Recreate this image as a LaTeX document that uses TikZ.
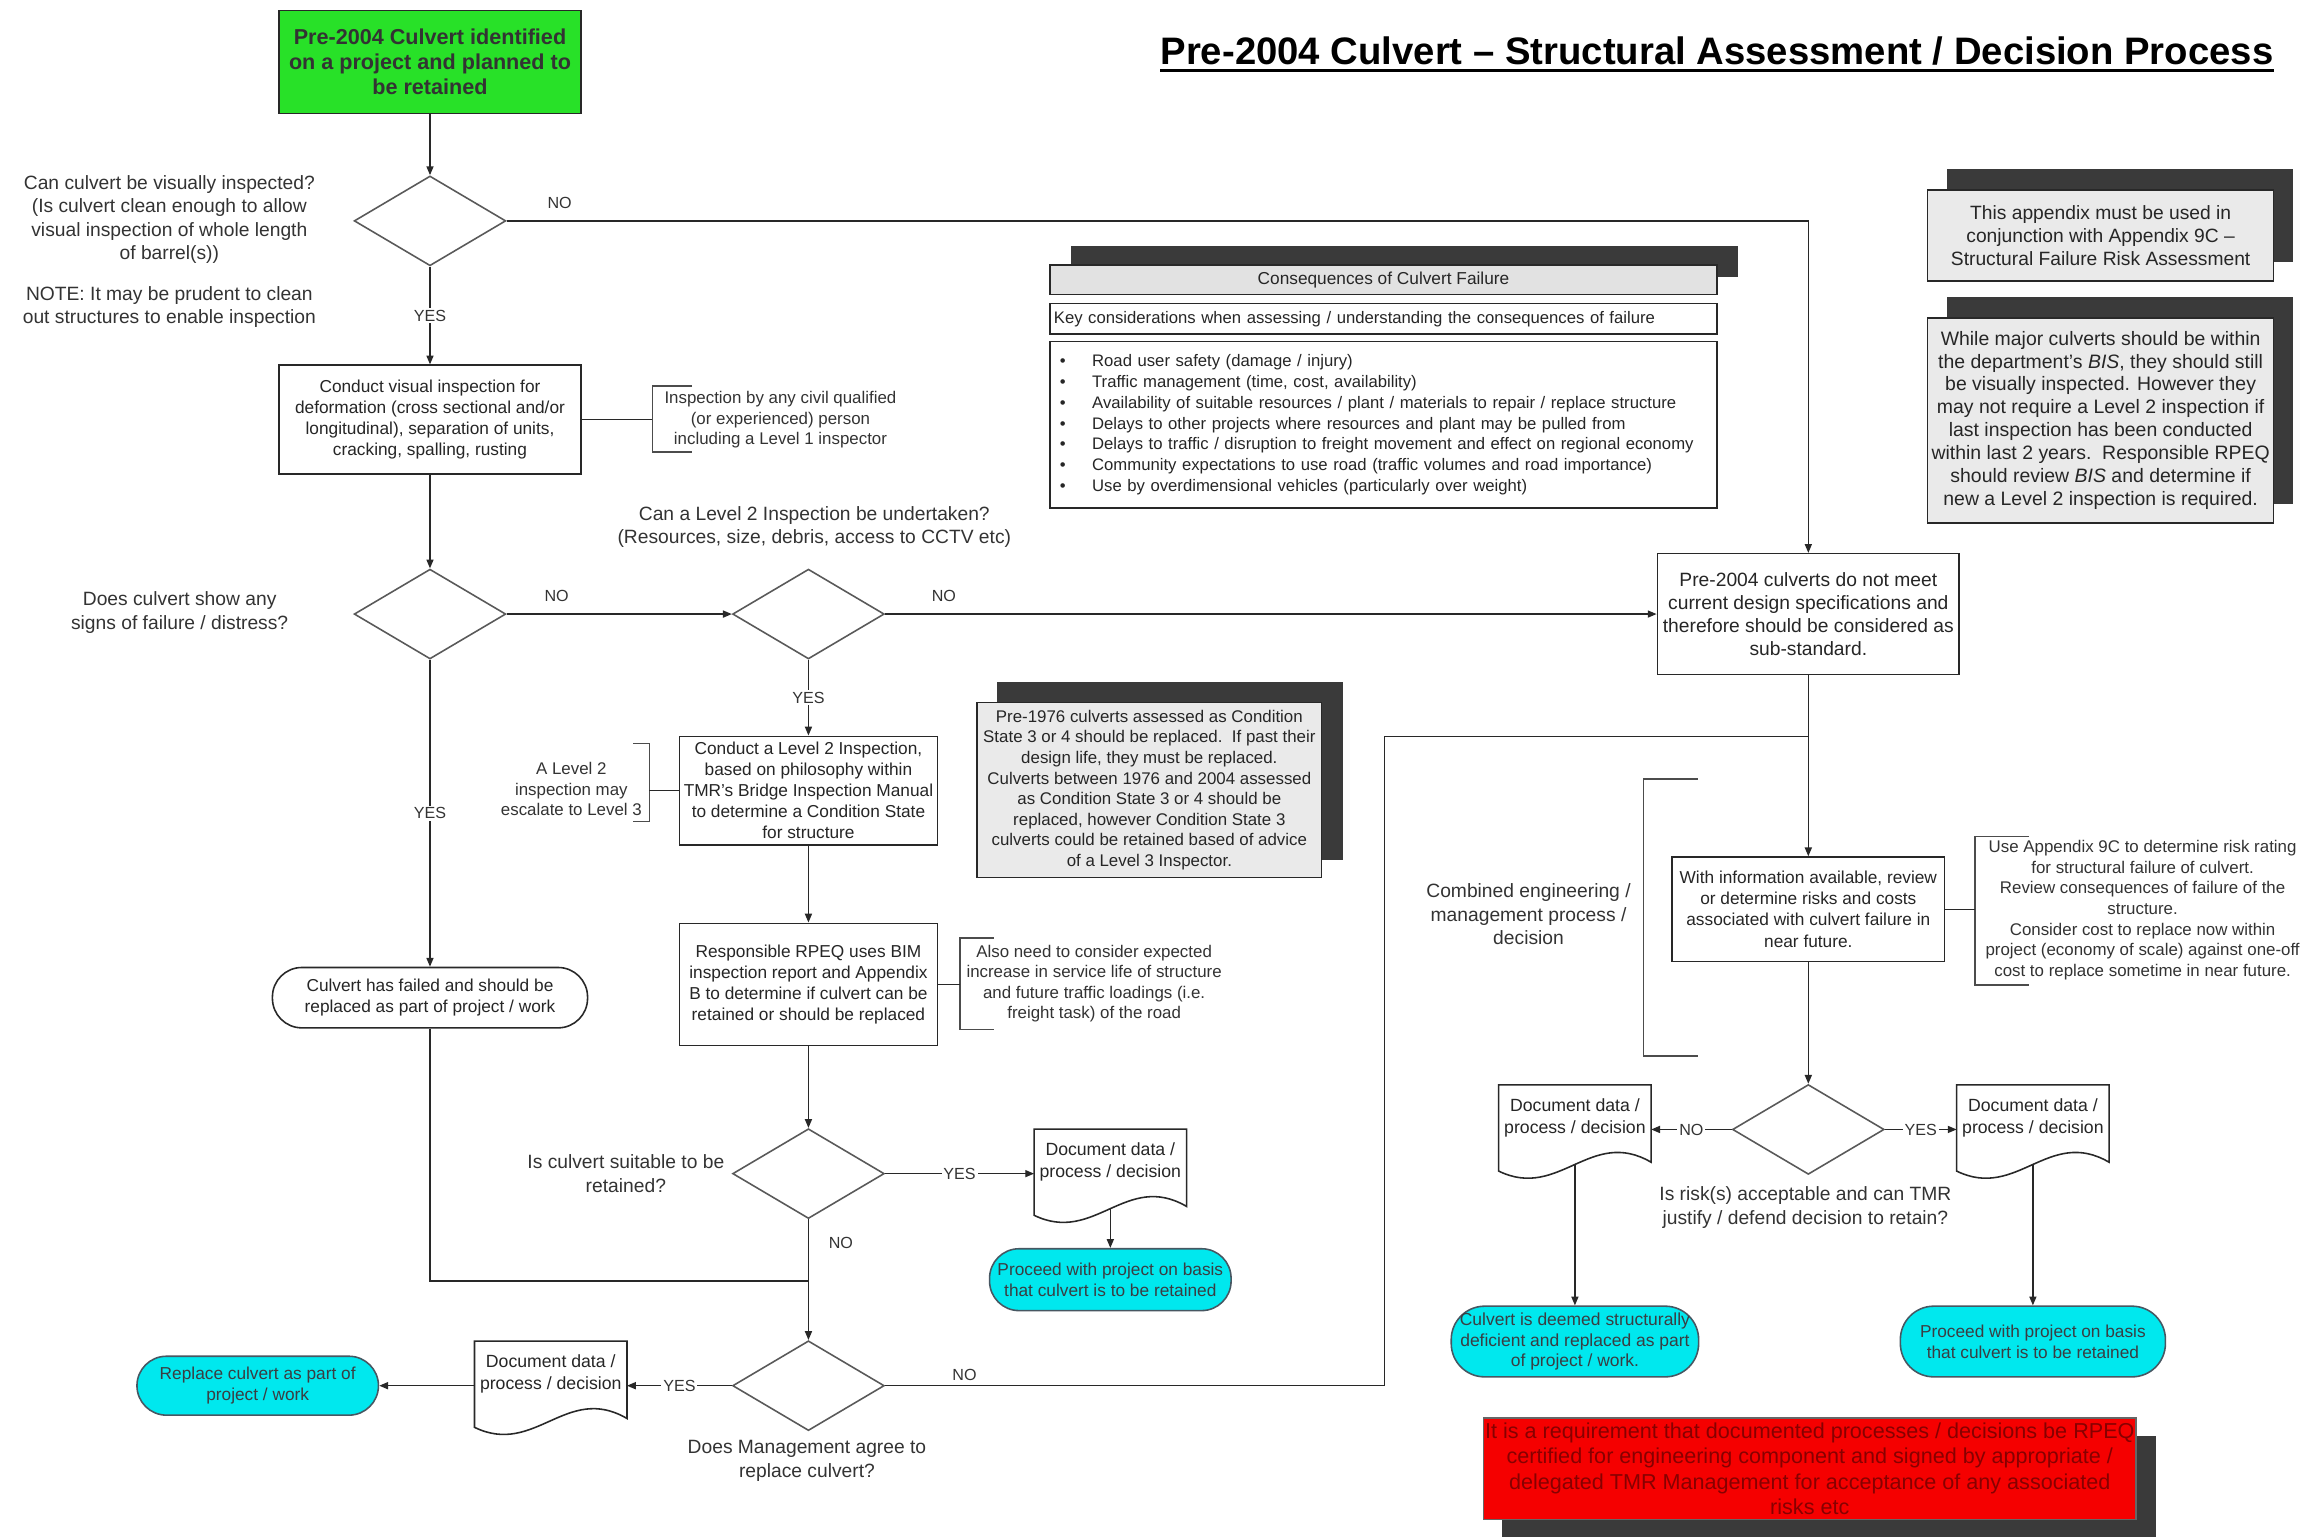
\documentclass[tikz,border=0pt]{standalone}
\usepackage{fontspec}
\setmainfont{Liberation Sans}
\usetikzlibrary{shapes.geometric,shapes.misc,arrows.meta,calc}
\definecolor{gfill}{RGB}{40,225,40}
\definecolor{cfill}{RGB}{0,232,238}
\definecolor{nfill}{RGB}{234,234,234}
\definecolor{hfill}{RGB}{226,226,226}
\definecolor{shad}{RGB}{58,58,58}
\definecolor{rfill}{RGB}{245,0,0}
\definecolor{rtext}{RGB}{135,0,0}
\definecolor{ln}{RGB}{40,40,40}
\newcommand\fs[2]{\fontsize{#1}{#2}\selectfont}
\newcommand\bul{\makebox[16.5pt][l]{\textbullet}}
\newcommand\docnode[3]{%
  \node[doctext] (#1) at (#2,#3) {Document data /\\process / decision};
  \draw[docline] (#1.north west) -- (#1.north east) -- ($(#1.south east)+(0,8)$)
    .. controls +(-41,-24) and +(41,20) .. ($(#1.south west)+(0,14)$) -- cycle;
  \coordinate (#1-b) at ($(#1.south)+(0,9.5)$);
}
\tikzset{
  line/.style={draw=ln, line width=0.7pt},
  arr/.style={line, -{Triangle[length=4.5pt,width=3.6pt]}},
  box/.style={rectangle, draw=ln, line width=0.8pt, fill=white, align=center, inner sep=1pt, text=black!85, font=\fs{8.8}{10.7}},
  dec/.style={diamond, draw=black!65, line width=0.8pt, minimum width=77.25pt, minimum height=45.75pt, inner sep=0pt},
  term/.style={rectangle, rounded corners=15pt, draw=ln, line width=0.8pt, align=center, inner sep=0pt, font=\fs{8.8}{10.5}},
  cterm/.style={term, fill=cfill, draw=black!70!cyan, text=black!85!cyan},
  note/.style={rectangle, draw=ln, line width=0.8pt, fill=nfill, align=center, inner sep=1pt, text=black!85},
  q/.style={align=center, text=black!80, font=\fs{9.8}{12}},
  cmt/.style={align=center, text=black!80, font=\fs{8.6}{10.5}},
  yn/.style={fill=white, inner sep=1pt, font=\fs{8.2}{9}, text=black!80},
  ynp/.style={inner sep=1pt, font=\fs{8.2}{9}, text=black!80},
  brk/.style={draw=black!70, line width=0.8pt},
  docline/.style={draw=ln, line width=0.8pt},
  doctext/.style={rectangle, minimum width=77.25pt, minimum height=33pt, inner sep=1pt, align=center, text=black!85, font=\fs{9}{11}}
}
\begin{document}
\begin{tikzpicture}[x=0.75pt,y=-0.75pt]
\useasboundingbox (0,0) rectangle (1568,1044);
\fill[white] (0,0) rectangle (1568,1044);

% title
\node[anchor=base, inner sep=0pt, font=\bfseries\fs{19.5}{22}] (title) at (1166,44) {Pre-2004 Culvert – Structural Assessment / Decision Process};
\draw[line width=1.6pt] ([yshift=-3pt]title.base west) -- ([yshift=-3pt]title.base east);

% left column
\node[box, fill=gfill, font=\bfseries\fs{11}{12.75}, text=black!80, minimum width=153.75pt, minimum height=52.5pt] (start) at (292,42) {Pre-2004 Culvert identified\\on a project and planned to\\be retained};
\node[dec] (d1) at (292,150) {};
\node[q] (q1) at (115,149) {Can culvert be visually inspected?\\(Is culvert clean enough to allow\\visual inspection of whole length\\of barrel(s))};
\node[q] (q1n) at (115,208.5) {NOTE: It may be prudent to clean\\out structures to enable inspection};
\node[box, minimum width=153.75pt, minimum height=55.5pt] (insp) at (292,285) {Conduct visual inspection for\\deformation (cross sectional and/or\\longitudinal), separation of units,\\cracking, spalling, rusting};
\node[dec] (d2) at (292,417) {};
\node[q] (q2) at (122,416) {Does culvert show any\\signs of failure / distress?};
\node[dec] (d3) at (549,417) {};
\node[q] (q3) at (553,358) {Can a Level 2 Inspection be undertaken?\\(Resources, size, debris, access to CCTV etc)};
\node[box, minimum width=131.25pt, minimum height=55.5pt] (lvl2) at (549,537) {Conduct a Level 2 Inspection,\\based on philosophy within\\TMR's Bridge Inspection Manual\\to determine a Condition State\\for structure};
\node[box, minimum width=131.25pt, minimum height=62.25pt] (rpeq) at (549,668.5) {Responsible RPEQ uses BIM\\inspection report and Appendix\\B to determine if culvert can be\\retained or should be replaced};
\node[dec] (d4) at (549,797) {};
\node[q] (q4) at (425,797) {Is culvert suitable to be\\retained?};
\node[dec] (d5) at (549,941) {};
\node[q] (q5) at (548,992) {Does Management agree to\\replace culvert?};
\node[term, fill=white, text=black!85, minimum width=160.5pt, minimum height=30.75pt] (failed) at (292,677.5) {Culvert has failed and should be\\replaced as part of project / work};
\node[cterm, minimum width=123pt, minimum height=31.5pt] (keep1) at (754,869) {Proceed with project on basis\\that culvert is to be retained};
\node[cterm, minimum width=123pt, minimum height=30pt] (replace) at (175,941) {Replace culvert as part of\\project / work};
\docnode{doc1}{754}{789}
\docnode{doc2}{374}{933}

% right column
\node[box, font=\fs{9.8}{11.6}, minimum width=153.75pt, minimum height=61.5pt] (presub) at (1228,417) {Pre-2004 culverts do not meet\\current design specifications and\\therefore should be considered as\\sub-standard.};
\node[box, minimum width=138.75pt, minimum height=53.25pt] (risk) at (1228,617.5) {With information available, review\\or determine risks and costs\\associated with culvert failure in\\near future.};
\node[dec] (d6) at (1228,767) {};
\node[q] (q6) at (1226,820) {Is risk(s) acceptable and can TMR\\justify / defend decision to retain?};
\docnode{doc3}{1069.5}{759}
\docnode{doc4}{1380.5}{759}
\node[cterm, rounded corners=17pt, font=\fs{8.9}{10.5}, minimum width=126pt, minimum height=36pt] (fail2) at (1069.5,911) {Culvert is deemed structurally\\deficient and replaced as part\\of project / work.};
\node[cterm, rounded corners=17pt, minimum width=135pt, minimum height=36pt] (keep2) at (1380.5,911) {Proceed with project on basis\\that culvert is to be retained};
\node[q] (comb) at (1038,621) {Combined engineering /\\management process /\\decision};

% notes with shadows
\fill[shad] (677,463) rectangle (912,584);
\node[note, minimum width=175.5pt, minimum height=89.25pt, font=\fs{8.6}{10.5}] (n1976) at (780.5,536.5) {Pre-1976 culverts assessed as Condition\\State 3 or 4 should be replaced.\ \ If past their\\design life, they must be replaced.\\Culverts between 1976 and 2004 assessed\\as Condition State 3 or 4 should be\\replaced, however Condition State 3\\culverts could be retained based of advice\\of a Level 3 Inspector.};
\fill[shad] (1322,115) rectangle (1557,178);
\node[note, minimum width=176.25pt, minimum height=46.5pt, font=\fs{9.8}{11.6}] (napp) at (1426.5,160) {This appendix must be used in\\conjunction with Appendix 9C –\\Structural Failure Risk Assessment};
\fill[shad] (1322,202) rectangle (1557,342);
\node[note, minimum width=176.25pt, minimum height=104.25pt, font=\fs{9.9}{11.7}] (nbis) at (1426.5,285.5) {While major culverts should be within\\the department's \textit{BIS}, they should still\\be visually inspected. However they\\may not require a Level 2 inspection if\\last inspection has been conducted\\within last 2 years.\ \ Responsible RPEQ\\should review \textit{BIS} and determine if\\new a Level 2 inspection is required.};

% consequences
\fill[shad] (727,167) rectangle (1180,188);
\node[note, fill=hfill, minimum width=339.75pt, minimum height=15pt, font=\fs{8.8}{10}] (cons) at (939.5,190) {Consequences of Culvert Failure};
\node[box, text width=335.75pt, inner xsep=2pt, minimum height=15.75pt, align=left, font=\fs{8.5}{10}] (key) at (939.5,216.5) {Key considerations when assessing / understanding the consequences of failure};
\node[box, text width=329.75pt, inner xsep=5pt, minimum height=84.75pt, align=left, font=\fs{8.5}{10.6}] (list) at (939.5,288.5) {\bul Road user safety (damage / injury)\\\bul Traffic management (time, cost, availability)\\\bul Availability of suitable resources / plant / materials to repair / replace structure\\\bul Delays to other projects where resources and plant may be pulled from\\\bul Delays to traffic / disruption to freight movement and effect on regional economy\\\bul Community expectations to use road (traffic volumes and road importance)\\\bul Use by overdimensional vehicles (particularly over weight)};

% requirement
\fill[shad] (1020,975) rectangle (1464,1044);
\node[rectangle, draw=black!60, line width=0.8pt, fill=rfill, text=rtext, minimum width=332.25pt, minimum height=51.75pt, font=\fs{11}{13}, align=center, inner sep=0pt] (req) at (1229,997.5) {It is a requirement that documented processes / decisions be RPEQ\\certified for engineering component and signed by appropriate /\\delegated TMR Management for acceptance of any associated\\risks etc};

% comment brackets
\coordinate (b1) at (443,285);
\draw[brk] (470,262) -- (443,262) -- (443,307) -- (470,307);
\draw[line] (insp) -- (b1);
\node[cmt] (c1) at (530,285) {Inspection by any civil qualified\\(or experienced) person\\including a Level 1 inspector};
\coordinate (b2) at (441,537);
\draw[brk] (430,505) -- (441,505) -- (441,558) -- (430,558);
\draw[line] (b2) -- (lvl2);
\node[cmt] (c2) at (388,536) {A Level 2\\inspection may\\escalate to Level 3};
\coordinate (b3) at (652,668.5);
\draw[brk] (675,637) -- (652,637) -- (652,699) -- (675,699);
\draw[line] (rpeq) -- (b3);
\node[cmt] (c3) at (743,668) {Also need to consider expected\\increase in service life of structure\\and future traffic loadings (i.e.\\freight task) of the road};
\coordinate (b4) at (1341,617.5);
\draw[brk] (1378,568) -- (1341,568) -- (1341,669) -- (1378,669);
\draw[line] (risk) -- (b4);
\node[cmt] (c4) at (1455,618) {Use Appendix 9C to determine risk rating\\for structural failure of culvert.\\Review consequences of failure of the\\structure.\\Consider cost to replace now within\\project (economy of scale) against one-off\\cost to replace sometime in near future.};
\draw[brk] (1153,529) -- (1116,529) -- (1116,717) -- (1153,717);

% connectors
\draw[arr] (start) -- (d1);
\draw[arr] (d1) -- node[yn]{YES} (insp);
\draw[arr] (d1.east) -| (presub.north);
\node[ynp] (l1) at (380,138) {NO};
\draw[arr] (insp) -- (d2);
\draw[arr] (d2) -- (d3);
\node[ynp] (l2) at (378,405) {NO};
\draw[arr] (d2) -- node[yn]{YES} (failed);
\draw[arr] (d3) -- (presub);
\node[ynp] (l3) at (641,405) {NO};
\draw[arr] (d3) -- node[yn]{YES} (lvl2);
\draw[arr] (lvl2) -- (rpeq);
\draw[arr] (rpeq) -- (d4);
\draw[arr] (d4.east) -- node[yn]{YES} (d4.east -| doc1.west);
\draw[arr] (doc1-b) -- (keep1);
\draw[arr] (d4) -- (d5);
\node[ynp] (l4) at (571,844) {NO};
\coordinate (j1) at (549,870);
\draw[line] (failed) |- (j1);
\draw[arr] (d5.west) -- node[yn]{YES} (d5.west -| doc2.east);
\draw[arr] (doc2.west |- d5.west) -- (replace);
\coordinate (bend) at (940,500);
\coordinate (j2) at (1228,500);
\draw[line] (d5.east) -| (bend) -- (j2);
\node[ynp] (l5) at (655,934) {NO};
\draw[arr] (presub) -- (risk);
\draw[arr] (risk) -- (d6);
\draw[arr] (d6.west) -- node[yn]{NO} (d6.west -| doc3.east);
\draw[arr] (d6.east) -- node[yn]{YES} (d6.east -| doc4.west);
\draw[arr] (doc3-b) -- (fail2);
\draw[arr] (doc4-b) -- (keep2);
\end{tikzpicture}
\end{document}
